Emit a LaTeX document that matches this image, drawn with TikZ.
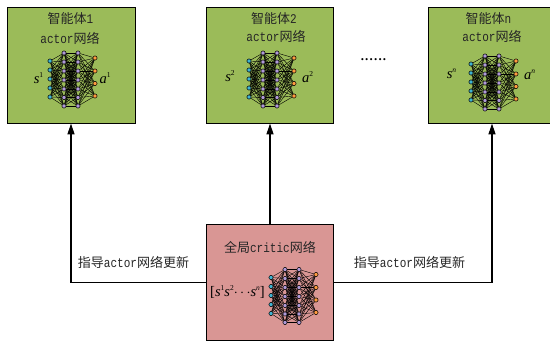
\documentclass[tikz,border=0pt]{standalone}
\usepackage{fontspec}
\setmainfont{Liberation Serif}
\newfontfamily\cjk{Noto Sans CJK SC}[Scale=0.98]
\newfontfamily\lat{Liberation Mono}[FakeStretch=0.83]
\usetikzlibrary{arrows.meta}
\pgfdeclarelayer{boxlayer}
\pgfdeclarelayer{edgelayer}
\pgfsetlayers{boxlayer,edgelayer,main}
\definecolor{agentgreen}{HTML}{9BBB59}
\definecolor{criticred}{HTML}{D99694}
\definecolor{inblue}{HTML}{3FB4D2}
\definecolor{hidpurple}{HTML}{B09AD8}
\definecolor{outorange}{HTML}{FF9C40}
\tikzset{
  agentbox/.style={draw=black,line width=0.9pt,fill=agentgreen,minimum width=128pt,minimum height=116pt,inner sep=0pt},
  criticbox/.style={agentbox,fill=criticred},
  lbl/.style={inner sep=0pt,font=\fontsize{13.3pt}{14pt}\selectfont,text=black!85},
  sym/.style={inner sep=0pt,font=\fontsize{14.5pt}{15pt}\selectfont\itshape},
  neuron/.style={circle,draw=black,line width=0.5pt,minimum size=4.2pt,inner sep=0pt},
  edge/.style={line width=0.42pt,draw=black},
  flow/.style={line width=1.1pt,-{Triangle[length=11pt,width=7pt]}}
}
\newcommand{\up}[1]{\raisebox{0.42em}{\fontsize{7.5pt}{8pt}\selectfont #1}}
% #1 prefix, #2 dx, #3 dy
\newcommand{\neuralnet}[3]{%
  \begin{scope}[shift={(#2,#3)}]
    \foreach \i/\y in {1/61,2/70,3/79,4/88,5/97}
      \node[neuron,fill=inblue] (#1i\i) at (50,\y) {};
    \foreach \i/\y in {1/53,2/62,3/71,4/80,5/89,6/97.5,7/106}{
      \node[neuron,fill=hidpurple] (#1h\i) at (64,\y) {};
      \node[neuron,fill=hidpurple] (#1k\i) at (78,\y) {};
    }
    \foreach \i/\y in {1/58,2/71,3/83.5,4/96}
      \node[neuron,fill=outorange] (#1o\i) at (95,\y) {};
    \begin{pgfonlayer}{edgelayer}
    \foreach \a in {1,...,5}\foreach \b in {1,...,7}
      \draw[edge] (#1i\a) -- (#1h\b);
    \foreach \a in {1,...,7}\foreach \b in {1,...,7}
      \draw[edge] (#1h\a) -- (#1k\b);
    \foreach \a in {1,...,7}\foreach \b in {1,...,4}
      \draw[edge] (#1k\a) -- (#1o\b);
    \end{pgfonlayer}
  \end{scope}}
\begin{document}
\begin{tikzpicture}[x=1pt,y=-1pt]
\useasboundingbox (0,0) rectangle (550,342);
\begin{pgfonlayer}{boxlayer}
\node[agentbox] (agentA) at (71,65) {};
\node[agentbox,minimum width=127pt] (agentB) at (270,65) {};
\node[agentbox] (agentN) at (492,65) {};
\node[criticbox,minimum width=127pt] (critic) at (270,282) {};
\end{pgfonlayer}

\node[lbl] (ta1) at (70.5,19) {{\cjk 智能体}{\lat 1}};
\node[lbl] (ta2) at (70,38) {{\lat actor}{\cjk 网络}};
\node[lbl] (tb1) at (274,19) {{\cjk 智能体}{\lat 2}};
\node[lbl] (tb2) at (276,36) {{\lat actor}{\cjk 网络}};
\node[lbl] (tn1) at (488.5,19) {{\cjk 智能体}{\lat n}};
\node[lbl] (tn2) at (492,36) {{\lat actor}{\cjk 网络}};
\node[lbl] (tc) at (270,247) {{\cjk 全局}{\lat critic}{\cjk 网络}};

\neuralnet{a}{0}{0}
\neuralnet{b}{199}{0}
\neuralnet{n}{421}{3}
\neuralnet{c}{221}{216.5}

\node[sym] (sa) at (38.5,78) {s\up{\upshape 1}};
\node[sym] (aa) at (105,78) {a\up{\upshape 1}};
\node[sym] (sb) at (230,76) {s\up{\upshape 2}};
\node[sym] (ab) at (307.5,77) {a\up{\upshape 2}};
\node[sym] (sn) at (451.5,74) {s\up{n}};
\node[sym] (an) at (529.5,75) {a\up{n}};
\node[sym] (sc) at (237.5,292) {{\upshape[}s\up{\upshape 1}s\up{\upshape 2}{\upshape$\cdots$}s\up{n}{\upshape]}};

\node[font=\fontsize{13pt}{14pt}\selectfont\bfseries,inner sep=0pt] (dots) at (373.5,60) {.\kern1.2pt.\kern1.2pt.\kern1.2pt.\kern1.2pt.\kern1.2pt.};

\node[lbl] (la) at (133.5,262) {{\cjk 指导}{\lat actor}{\cjk 网络更新}};
\node[lbl] (lb) at (409.5,262) {{\cjk 指导}{\lat actor}{\cjk 网络更新}};

\coordinate (cl) at (critic.west |- 0,282.5);
\coordinate (cr) at (critic.east |- 0,282.5);
\draw[flow] (cl) -| (agentA.south);
\draw[flow] (critic.north) -- (agentB.south);
\draw[flow] (cr) -| (agentN.south);
\end{tikzpicture}
\end{document}
